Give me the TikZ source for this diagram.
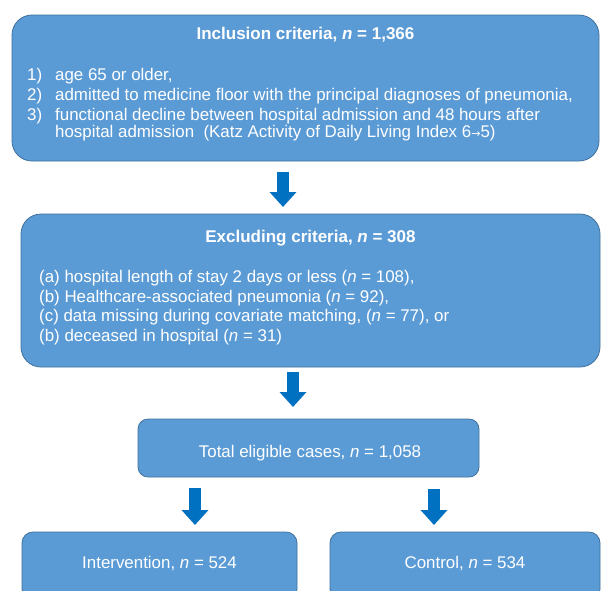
\documentclass[tikz,border=0pt]{standalone}
\usepackage{fontspec}
\setmainfont{Liberation Sans}
\newfontfamily\symfont{DejaVu Sans}
\usetikzlibrary{arrows.meta}
\definecolor{boxfill}{HTML}{5B9BD5}
\definecolor{boxline}{HTML}{41719C}
\definecolor{arrowblue}{HTML}{0070C0}
\tikzset{
  flowbox/.style={draw=boxline, line width=0.8pt, fill=boxfill, rounded corners=#1, inner sep=0pt},
  txt/.style={text=white, inner sep=0pt, font=\fontsize{16.9}{19}\selectfont},
  ttl/.style={text=white, inner sep=0pt, font=\fontsize{17}{19}\selectfont\bfseries, anchor=base},
  bigarrow/.style={draw=arrowblue, line width=12pt, -{Triangle[width=26pt, length=15pt]}}
}
\begin{document}
\begin{tikzpicture}[x=1pt, y=-1pt]
\path[use as bounding box, fill=white] (0,0) rectangle (601,590);
\clip (0,0) rectangle (601,590);

% boxes
\node[flowbox=20pt, minimum width=587pt, minimum height=146pt] (inc) at (305.5,88) {};
\node[flowbox=20pt, minimum width=579pt, minimum height=153pt] (exc) at (310.5,290.5) {};
\node[flowbox=10pt, minimum width=341pt, minimum height=58pt] (tot) at (308.5,448) {};
\node[flowbox=11pt, minimum width=275pt, minimum height=68pt] (int) at (159.5,566) {};
\node[flowbox=11pt, minimum width=270pt, minimum height=68pt] (con) at (465,566) {};

% inclusion text
\node[ttl] (inct) at (305.5,39) {Inclusion criteria, \textit{n} = 1,366};
\node[txt, anchor=base west] (i1n) at (27,80) {1)};
\node[txt, anchor=base west] (i1) at (55,80) {age 65 or older,};
\node[txt, anchor=base west] (i2n) at (27,100) {2)};
\node[txt, anchor=base west] (i2) at (55,100) {admitted to medicine floor with the principal diagnoses of pneumonia,};
\node[txt, anchor=base west] (i3n) at (27,120) {3)};
\node[txt, anchor=base west] (i3) at (55,120) {functional decline between hospital admission and 48 hours after};
\node[txt, anchor=base west] (i3b) at (55,137) {hospital admission\ \ (Katz Activity of Daily Living Index 6{\symfont\fontsize{11}{11}\selectfont →}5)};

% exclusion text
\node[ttl] (exct) at (310.5,242) {Excluding criteria, \textit{n} = 308};
\node[txt, anchor=base west] (e1) at (39,282) {(a) hospital length of stay 2 days or less (\textit{n} = 108),};
\node[txt, anchor=base west] (e2) at (39,302) {(b) Healthcare-associated pneumonia (\textit{n} = 92),};
\node[txt, anchor=base west] (e3) at (39,321) {(c) data missing during covariate matching, (\textit{n} = 77), or};
\node[txt, anchor=base west] (e4) at (39,341) {(b) deceased in hospital (\textit{n} = 31)};

% other texts
\node[txt, anchor=base] (tott) at (310,457) {Total eligible cases, \textit{n} = 1,058};
\node[txt, anchor=base] (intt) at (159.5,568) {Intervention, \textit{n} = 524};
\node[txt, anchor=base] (cont) at (465,568) {Control, \textit{n} = 534};

% arrows
\coordinate (a1s) at (283,172); \coordinate (a1e) at (283,207);
\coordinate (a2s) at (293,372); \coordinate (a2e) at (293,407);
\coordinate (a3s) at (195,488); \coordinate (a3e) at (195,525);
\coordinate (a4s) at (434,489); \coordinate (a4e) at (434,525);
\draw[bigarrow] (a1s) -- (a1e);
\draw[bigarrow] (a2s) -- (a2e);
\draw[bigarrow] (a3s) -- (a3e);
\draw[bigarrow] (a4s) -- (a4e);
\end{tikzpicture}
\end{document}
